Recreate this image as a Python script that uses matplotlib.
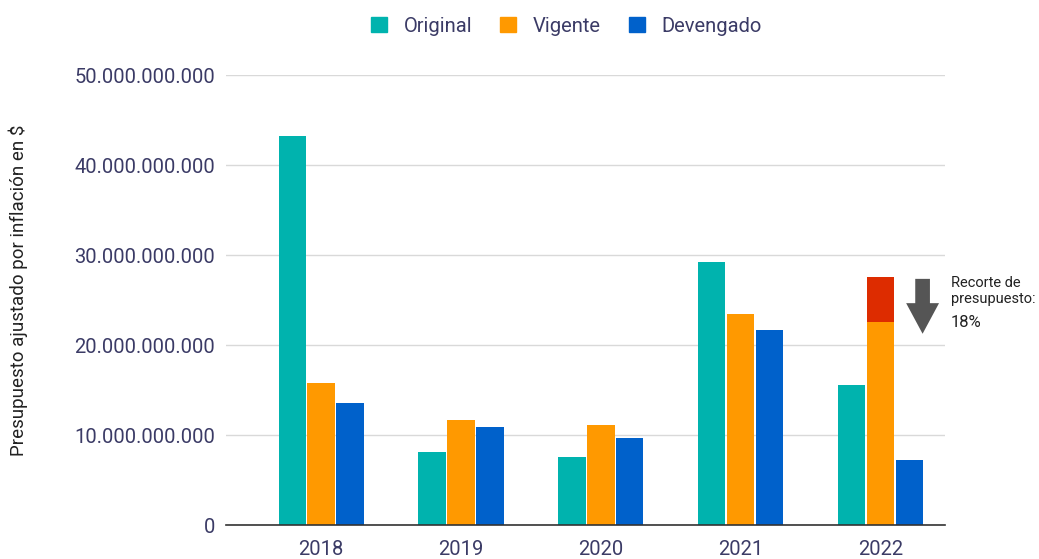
import numpy as np
import matplotlib.pyplot as plt
from matplotlib.patches import Patch, FancyArrow

plt.rcParams['font.family'] = ['Roboto', 'DejaVu Sans']

years = ['2018', '2019', '2020', '2021', '2022']
original = [43.2e9, 8.1e9, 7.6e9, 29.2e9, 15.6e9]
vigente = [15.8e9, 11.7e9, 11.1e9, 23.4e9, 22.6e9]
devengado = [13.6e9, 10.9e9, 9.7e9, 21.7e9, 7.2e9]
recorte = [0, 0, 0, 0, 5.0e9]  # cut on top of vigente (2022)

c_orig = '#00b3ae'
c_vig = '#ff9900'
c_dev = '#0061cb'
c_red = '#dd2c00'
txt = '#3b3b66'

fig = plt.figure(figsize=(10.39, 5.59), dpi=100)
ax = fig.add_axes([0.2175, 0.0608, 0.692, 0.805])

x = np.arange(len(years))
w = 0.195
step = 0.207
ax.bar(x - step, original, w, color=c_orig, zorder=3)
ax.bar(x, vigente, w, color=c_vig, zorder=3)
ax.bar(x + step, devengado, w, color=c_dev, zorder=3)
ax.bar(x, recorte, w, bottom=vigente, color=c_red, zorder=3)

ax.set_xlim(-0.68, 4.46)
ax.set_ylim(0, 50e9)
ticks = np.arange(0, 50e9 + 1, 10e9)
ax.set_yticks(ticks)
ax.set_yticklabels(['0'] + ['{:,.0f}'.format(t).replace(',', '.') for t in ticks[1:]],
                   fontsize=14.5, color=txt)
ax.set_xticks(x)
ax.set_xticklabels(years, fontsize=14.5, color=txt)
ax.tick_params(axis='y', length=0, pad=8)
ax.tick_params(axis='x', length=0, pad=11)
ax.grid(axis='y', color='#d9d9d9', lw=1, zorder=0)
for s in ['top', 'right', 'left']:
    ax.spines[s].set_visible(False)
ax.spines['bottom'].set_color('#333333')
ax.spines['bottom'].set_linewidth(1.2)
ax.spines['bottom'].set_zorder(4)

fig.text(0.018, 0.48, 'Presupuesto ajustado por inflación en $', rotation=90,
         ha='center', va='center', fontsize=13.5, color='#222222')

# arrow + note for the cut
arr = FancyArrow(4.30, 27.35e9, 0, -6.1e9, width=0.105, head_width=0.235,
                 head_length=3.4e9, length_includes_head=True, color='#555555',
                 lw=0, clip_on=False, zorder=5)
ax.add_patch(arr)
ax.text(4.5, 27.7e9, 'Recorte de\npresupuesto:', fontsize=10.5, color='#222222',
        va='top', ha='left', linespacing=1.2)
ax.text(4.5, 23.3e9, '18%', fontsize=12, color='#222222', va='top', ha='left')

handles = [Patch(color=c_orig), Patch(color=c_vig), Patch(color=c_dev)]
fig.legend(handles, ['Original', 'Vigente', 'Devengado'], loc='center',
           bbox_to_anchor=(0.545, 0.953), ncol=3, frameon=False, fontsize=14.5,
           labelcolor=txt, handlelength=0.8, handleheight=0.8, columnspacing=1.4,
           handletextpad=0.8)

fig.savefig('out.png', dpi=100)
